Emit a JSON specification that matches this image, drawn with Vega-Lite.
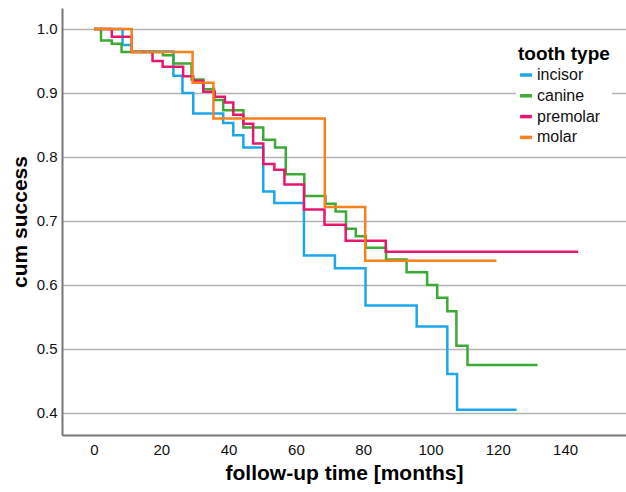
{
  "$schema": "https://vega.github.io/schema/vega-lite/v6.json",
  "width": 564,
  "height": 427,
  "autosize": {"type": "none"},
  "padding": {"left": 62, "top": 8, "right": 0, "bottom": 57},
  "background": "white",
  "config": {
    "view": {"stroke": null},
    "font": "Liberation Sans"
  },
  "data": {
    "values": [
      {"type": "incisor", "t": 0, "s": 1.0},
      {"type": "incisor", "t": 8.5, "s": 0.975},
      {"type": "incisor", "t": 11.2, "s": 0.965},
      {"type": "incisor", "t": 23.6, "s": 0.927},
      {"type": "incisor", "t": 26.3, "s": 0.9},
      {"type": "incisor", "t": 29.5, "s": 0.868},
      {"type": "incisor", "t": 38.4, "s": 0.853},
      {"type": "incisor", "t": 41.4, "s": 0.834},
      {"type": "incisor", "t": 44.4, "s": 0.815},
      {"type": "incisor", "t": 50.3, "s": 0.746},
      {"type": "incisor", "t": 53.6, "s": 0.728},
      {"type": "incisor", "t": 62.4, "s": 0.646},
      {"type": "incisor", "t": 71.6, "s": 0.626},
      {"type": "incisor", "t": 80.7, "s": 0.568},
      {"type": "incisor", "t": 95.9, "s": 0.535},
      {"type": "incisor", "t": 105.0, "s": 0.461},
      {"type": "incisor", "t": 107.9, "s": 0.405},
      {"type": "incisor", "t": 125.6, "s": 0.405},
      {"type": "canine", "t": 0, "s": 1.0},
      {"type": "canine", "t": 2.1, "s": 0.982},
      {"type": "canine", "t": 5.3, "s": 0.977},
      {"type": "canine", "t": 8.2, "s": 0.964},
      {"type": "canine", "t": 20.5, "s": 0.959},
      {"type": "canine", "t": 23.6, "s": 0.946},
      {"type": "canine", "t": 29.0, "s": 0.921},
      {"type": "canine", "t": 32.5, "s": 0.906},
      {"type": "canine", "t": 35.7, "s": 0.889},
      {"type": "canine", "t": 38.4, "s": 0.873},
      {"type": "canine", "t": 44.4, "s": 0.846},
      {"type": "canine", "t": 50.3, "s": 0.827},
      {"type": "canine", "t": 53.8, "s": 0.815},
      {"type": "canine", "t": 57.0, "s": 0.773},
      {"type": "canine", "t": 62.5, "s": 0.739},
      {"type": "canine", "t": 68.8, "s": 0.727},
      {"type": "canine", "t": 71.8, "s": 0.715},
      {"type": "canine", "t": 74.9, "s": 0.688},
      {"type": "canine", "t": 77.8, "s": 0.676},
      {"type": "canine", "t": 80.8, "s": 0.658},
      {"type": "canine", "t": 86.8, "s": 0.64},
      {"type": "canine", "t": 92.9, "s": 0.62},
      {"type": "canine", "t": 99.0, "s": 0.6},
      {"type": "canine", "t": 102.0, "s": 0.58},
      {"type": "canine", "t": 105.0, "s": 0.559},
      {"type": "canine", "t": 107.7, "s": 0.505},
      {"type": "canine", "t": 111.0, "s": 0.475},
      {"type": "canine", "t": 131.8, "s": 0.475},
      {"type": "premolar", "t": 0, "s": 1.0},
      {"type": "premolar", "t": 5.3, "s": 0.988},
      {"type": "premolar", "t": 11.2, "s": 0.964},
      {"type": "premolar", "t": 17.4, "s": 0.95},
      {"type": "premolar", "t": 20.4, "s": 0.941},
      {"type": "premolar", "t": 26.5, "s": 0.926},
      {"type": "premolar", "t": 29.5, "s": 0.919},
      {"type": "premolar", "t": 32.5, "s": 0.902},
      {"type": "premolar", "t": 35.9, "s": 0.894},
      {"type": "premolar", "t": 38.9, "s": 0.885},
      {"type": "premolar", "t": 41.4, "s": 0.866},
      {"type": "premolar", "t": 44.4, "s": 0.852},
      {"type": "premolar", "t": 47.3, "s": 0.821},
      {"type": "premolar", "t": 50.3, "s": 0.789},
      {"type": "premolar", "t": 53.6, "s": 0.78},
      {"type": "premolar", "t": 56.6, "s": 0.757},
      {"type": "premolar", "t": 62.4, "s": 0.718},
      {"type": "premolar", "t": 68.5, "s": 0.694},
      {"type": "premolar", "t": 74.8, "s": 0.669},
      {"type": "premolar", "t": 86.7, "s": 0.652},
      {"type": "premolar", "t": 143.9, "s": 0.652},
      {"type": "molar", "t": 0, "s": 1.0},
      {"type": "molar", "t": 11.2, "s": 0.964},
      {"type": "molar", "t": 29.3, "s": 0.916},
      {"type": "molar", "t": 35.5, "s": 0.86},
      {"type": "molar", "t": 68.6, "s": 0.722},
      {"type": "molar", "t": 80.6, "s": 0.638},
      {"type": "molar", "t": 119.6, "s": 0.638}
    ]
  },
  "mark": {"type": "line", "interpolate": "step-after", "strokeWidth": 2.5},
  "encoding": {
    "x": {
      "field": "t", "type": "quantitative",
      "scale": {"domain": [-9.5, 158.1], "nice": false, "zero": false},
      "axis": {
        "title": "follow-up time [months]",
        "values": [0, 20, 40, 60, 80, 100, 120, 140],
        "grid": false, "ticks": false,
        "domainColor": "#777777", "domainWidth": 2,
        "labelFont": "Liberation Sans", "labelFontSize": 15, "labelColor": "#111111",
        "labelPadding": 7,
        "titleFont": "Liberation Sans", "titleFontSize": 21, "titleFontWeight": "bold", "titleColor": "#000000",
        "titlePadding": 5
      }
    },
    "y": {
      "field": "s", "type": "quantitative",
      "scale": {"domain": [0.3656, 1.0328], "nice": false, "zero": false},
      "axis": {
        "title": "cum success",
        "values": [0.4, 0.5, 0.6, 0.7, 0.8, 0.9, 1.0],
        "format": ".1f",
        "grid": true, "gridColor": "#b4b4b4", "gridWidth": 1.5,
        "ticks": false,
        "domainColor": "#777777", "domainWidth": 2,
        "labelFont": "Liberation Sans", "labelFontSize": 15, "labelColor": "#111111",
        "labelPadding": 5,
        "titleFont": "Liberation Sans", "titleFontSize": 21, "titleFontWeight": "bold", "titleColor": "#000000",
        "titlePadding": 6
      }
    },
    "color": {
      "field": "type", "type": "nominal",
      "scale": {
        "domain": ["incisor", "canine", "premolar", "molar"],
        "range": ["#1ca7ec", "#3daa35", "#e6186e", "#f7811a"]
      },
      "legend": {
        "title": "tooth type",
        "orient": "none",
        "legendX": 454,
        "legendY": 35,
        "fillColor": "white",
        "padding": 2,
        "titleFont": "Liberation Sans", "titleFontSize": 19, "titleFontWeight": "bold", "titleColor": "#000000",
        "titlePadding": 3,
        "labelFont": "Liberation Sans", "labelFontSize": 16, "labelColor": "#111111",
        "symbolType": "stroke", "symbolStrokeWidth": 3.5, "symbolSize": 140,
        "rowPadding": 4.8,
        "labelOffset": 3
      }
    }
  }
}
